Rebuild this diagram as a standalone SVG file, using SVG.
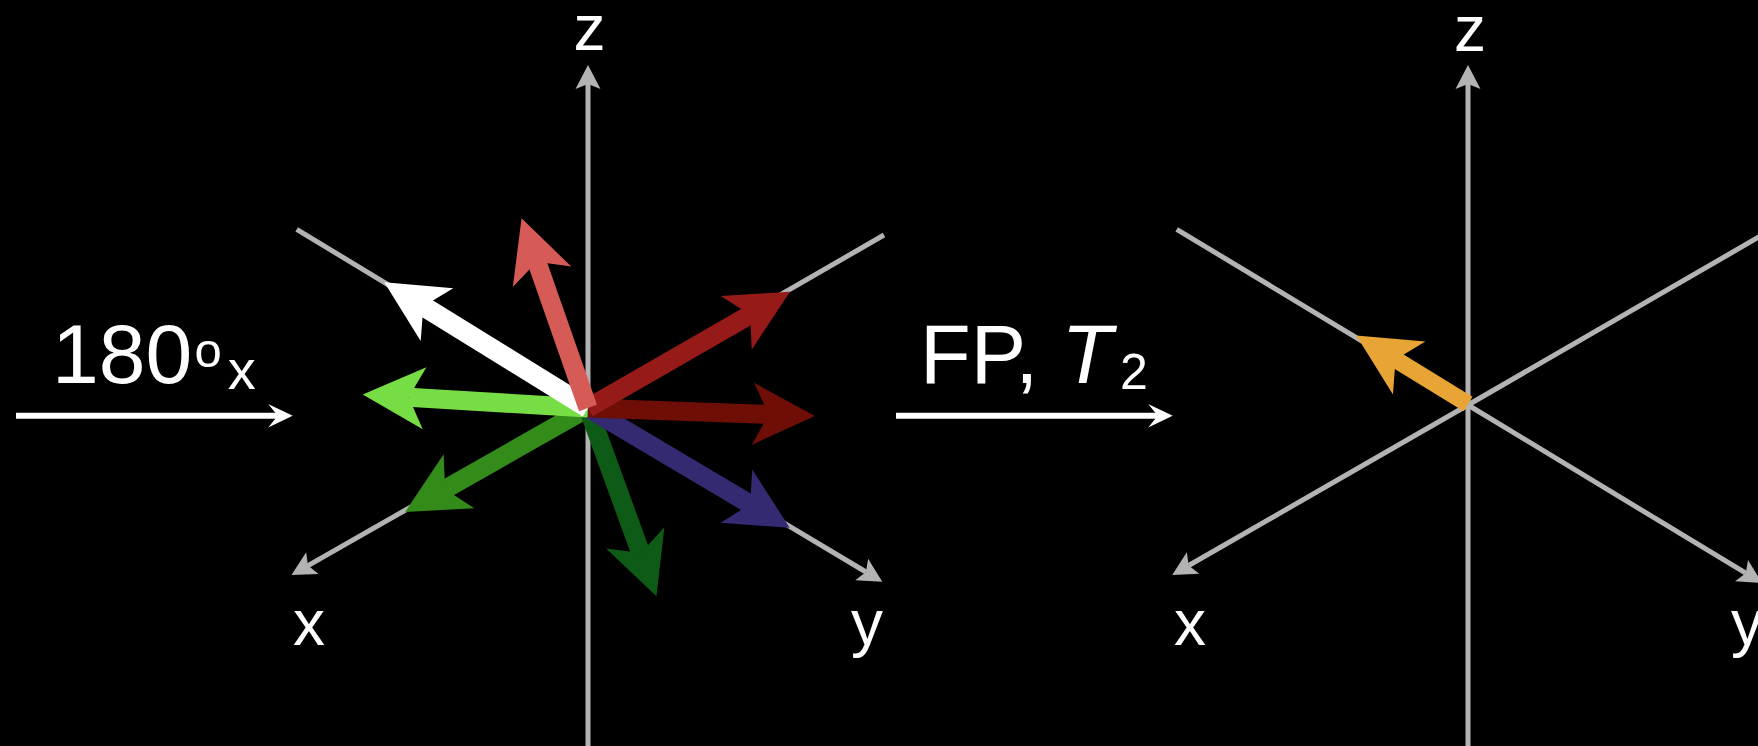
<svg xmlns="http://www.w3.org/2000/svg" xmlns:xlink="http://www.w3.org/1999/xlink" width="1758" height="746" viewBox="0 0 1758 746">
<style>
.ax{stroke:#b3b3b3;stroke-width:5;fill:none}
.axa{stroke:#b3b3b3;stroke-width:5;fill:none;marker-end:url(#axm)}
.lbl{font-family:"Liberation Sans",Arial,sans-serif;fill:#ffffff}
.tr{stroke:#ffffff;stroke-width:6;fill:none;marker-end:url(#wm)}
.sh{stroke-width:19}
</style>
<defs>
<marker id="axm" markerUnits="userSpaceOnUse" orient="auto" markerWidth="1" markerHeight="1" refX="0" refY="0" style="overflow:visible">
<path d="M19,0 L-5,-12.5 L0,0 L-5,12.5 Z" fill="#b3b3b3"/>
</marker>
<marker id="wm" markerUnits="userSpaceOnUse" orient="auto" markerWidth="1" markerHeight="1" refX="0" refY="0" style="overflow:visible">
<path d="M15,0 L-9.5,-11.7 L0,0 L-9.5,11.7 Z" fill="#ffffff"/>
</marker>
<path id="vh" d="M0,0 L-62,-31 L-46,0 L-62,31 Z"/>
</defs>
<rect x="0" y="0" width="1758" height="746" fill="#000000"/>

<g id="axes-left">
<line class="axa" x1="588" y1="750" x2="588" y2="84"/>
<line class="ax" x1="588" y1="406" x2="296.7" y2="229.3"/>
<line class="axa" x1="588" y1="406" x2="308" y2="565.6"/>
<line class="ax" x1="588" y1="406" x2="884" y2="235"/>
<line class="axa" x1="588" y1="406" x2="866" y2="572"/>
<text class="lbl" x="589.5" y="50" font-size="64" text-anchor="middle">z</text>
<text class="lbl" x="309" y="645" font-size="64" text-anchor="middle">x</text>
<text class="lbl" x="867" y="645" font-size="64" text-anchor="middle">y</text>
</g>

<g id="axes-right">
<line class="axa" x1="1468" y1="750" x2="1468" y2="84"/>
<line class="ax" x1="1468" y1="405" x2="1176.7" y2="229.3"/>
<line class="axa" x1="1468" y1="405" x2="1188.7" y2="565.5"/>
<line class="ax" x1="1468" y1="405" x2="1790" y2="219"/>
<line class="axa" x1="1468" y1="405" x2="1745.8" y2="573.2"/>
<text class="lbl" x="1470" y="50.5" font-size="64" text-anchor="middle">z</text>
<text class="lbl" x="1190" y="645" font-size="64" text-anchor="middle">x</text>
<text class="lbl" x="1747" y="645" font-size="64" text-anchor="middle">y</text>
</g>

<g id="vectors-left">
<g id="vec-mediumgreen" transform="translate(588,408) rotate(150.4)" fill="#338b1a">
<line class="sh" x1="0" y1="0" x2="164.4" y2="0" stroke="#338b1a"/>
<use xlink:href="#vh" href="#vh" x="210.4" y="0"/>
</g>
<g id="vec-darkgreen" transform="translate(588,408) rotate(70)" fill="#0e5b17">
<line class="sh" x1="0" y1="0" x2="154.2" y2="0" stroke="#0e5b17"/>
<use xlink:href="#vh" href="#vh" x="200.2" y="0"/>
</g>
<g id="vec-blue" transform="translate(588,408) rotate(30.7)" fill="#332a72">
<line class="sh" x1="0" y1="0" x2="188.6" y2="0" stroke="#332a72"/>
<use xlink:href="#vh" href="#vh" x="234.6" y="0"/>
</g>
<g id="vec-maroon" transform="translate(588,408) rotate(2)" fill="#6f0e06">
<line class="sh" x1="0" y1="0" x2="181" y2="0" stroke="#6f0e06"/>
<use xlink:href="#vh" href="#vh" x="227" y="0"/>
</g>
<g id="vec-darkred" transform="translate(588,408) rotate(330.1)" fill="#951a18">
<line class="sh" x1="0" y1="0" x2="187" y2="0" stroke="#951a18"/>
<use xlink:href="#vh" href="#vh" x="233" y="0"/>
</g>
<g id="vec-lightgreen" transform="translate(588,408) rotate(183.4)" fill="#77dd45">
<line class="sh" x1="0" y1="0" x2="179.7" y2="0" stroke="#77dd45"/>
<use xlink:href="#vh" href="#vh" x="225.7" y="0"/>
</g>
<g id="vec-white" transform="translate(588,408) rotate(211.7)" fill="#ffffff">
<line x1="0" y1="0" x2="193.5" y2="0" stroke="#ffffff" stroke-width="20"/>
<use xlink:href="#vh" href="#vh" x="239.5" y="0"/>
</g>
<g id="vec-lightred" transform="translate(588,408) rotate(250.7)" fill="#d65b57">
<line class="sh" x1="0" y1="0" x2="155" y2="0" stroke="#d65b57"/>
<use xlink:href="#vh" href="#vh" x="201" y="0"/>
</g>
</g>

<g id="vectors-right">
<g id="vec-orange" transform="translate(1468,404) rotate(211.5)" fill="#e8a434">
<line x1="0" y1="0" x2="85" y2="0" stroke="#e8a434" stroke-width="17"/>
<use xlink:href="#vh" href="#vh" x="131" y="0"/>
</g>
</g>

<g id="connectors">
<line class="tr" x1="16" y1="415.7" x2="277.7" y2="415.7"/>
<line class="tr" x1="896" y1="415.7" x2="1157.7" y2="415.7"/>
</g>

<g id="label-rotation">
<text class="lbl" x="52" y="383.3" font-size="84">180</text>
<text class="lbl" x="194.5" y="367" font-size="49">o</text>
<text class="lbl" x="227.8" y="389.3" font-size="56">x</text>
</g>
<g id="label-fp">
<text class="lbl" x="920" y="382.7" font-size="83">FP, <tspan font-style="italic">T</tspan></text>
<text class="lbl" x="1120" y="389.3" font-size="50">2</text>
</g>
</svg>
